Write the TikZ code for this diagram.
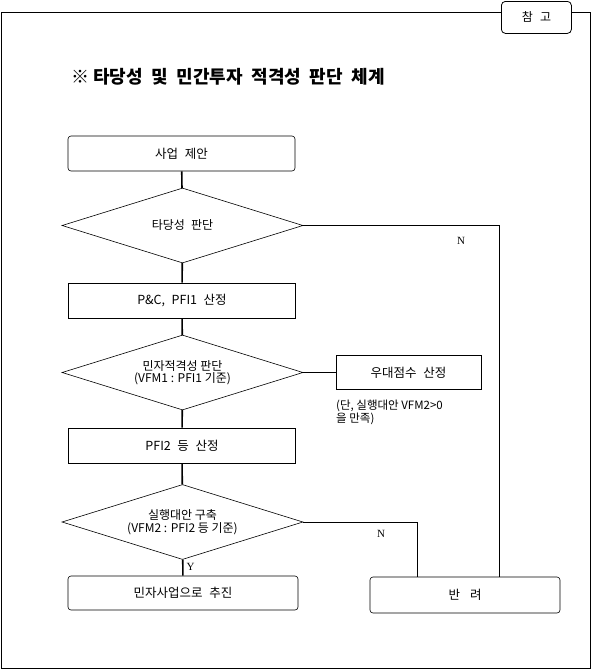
\documentclass[tikz,border=0pt]{standalone}
\usepackage{fontspec}
\setmainfont{Noto Sans CJK KR}
\newfontfamily\markfont{Liberation Serif}
\usetikzlibrary{positioning,shapes.geometric}

\begin{document}
\begin{tikzpicture}[
  x=1pt, y=-1pt,
  box/.style={draw, minimum width=227pt, minimum height=35pt, font=\fontsize{12.5}{14}\selectfont, line width=0.6pt, inner sep=0pt},
  rbox/.style={box, rounded corners=3pt},
  cond/.style={draw, diamond, aspect=3.2, minimum width=241pt, minimum height=75pt, font=\fontsize{12}{12.5}\selectfont, align=center, inner sep=0pt, line width=0.6pt},
  flow/.style={line width=1.6pt},
  branch/.style={line width=1pt},
  branchlbl/.style={font=\markfont\fontsize{11}{12}\selectfont, inner sep=0pt},
]
\useasboundingbox (0,0) rectangle (595,670);

% Frame and tab
\draw[line width=0.8pt] (1,12) rectangle (590,668);
\node[draw, fill=white, rounded corners=4pt, minimum width=70pt, minimum height=32pt, line width=0.8pt, font=\fontsize{12}{13}\selectfont, anchor=north west] (tab) at (501,1) {참\hspace{0.6em}고};

% Title
\node[font=\bfseries\fontsize{18}{20}\selectfont, anchor=west, inner sep=0pt] (title) at (71,77) {※ 타당성\hspace{0.25em} 및\hspace{0.25em} 민간투자\hspace{0.25em} 적격성\hspace{0.25em} 판단\hspace{0.25em} 체계};

% Main flow
\node[rbox] (propose) at (181.5,153.5) {사업\hspace{0.3em} 제안};
\node[cond] (valid) at (182.5,225.5) {타당성\hspace{0.3em} 판단};
\node[box] (pfione) at (182,300.5) {P\&C,\hspace{0.3em} PFI1\hspace{0.3em} 산정};
\node[cond] (private) at (182.5,372.5) {민자적격성 판단\\(VFM1 : PFI1 기준)};
\node[box] (pfitwo) at (182,445.5) {PFI2\hspace{0.3em} 등\hspace{0.3em} 산정};
\node[cond] (exec) at (182.5,522) {실행대안 구축\\(VFM2 : PFI2 등 기준)};
\node[rbox, minimum width=230pt, minimum height=34pt] (promote) at (183,593) {민자사업으로\hspace{0.3em} 추진};
\node[rbox, minimum width=190pt, minimum height=36pt] (reject) at (465,595) {반\hspace{0.8em}려};

% Side box and note
\node[box, rounded corners=0pt, minimum width=145pt, minimum height=34pt] (bonus) at (408.5,372.5) {우대점수\hspace{0.3em} 산정};
\node[font=\fontsize{11.5}{11.5}\selectfont, align=left, anchor=north west, inner sep=0pt] (note) at (336,400) {(단, 실행대안 VFM2>0\\을 만족)};

% Connectors
\draw[flow] (propose) -- (valid);
\draw[flow] (valid) -- (pfione);
\draw[flow] (pfione) -- (private);
\draw[flow] (private) -- (pfitwo);
\draw[flow] (pfitwo) -- (exec);
\draw[flow] (exec) -- node[branchlbl, right=3pt, pos=0.45] (yes) {Y} (promote);
\draw[flow] (private.east) -- (bonus.west);
\draw[branch] (valid.east) -| ([xshift=34pt]reject.north);
\draw[branch] (exec.east) -| ([xshift=-48pt]reject.north);

% Branch labels
\node[branchlbl] (noone) at (461,241) {N};
\node[branchlbl] (notwo) at (381,534) {N};
\end{tikzpicture}
\end{document}
